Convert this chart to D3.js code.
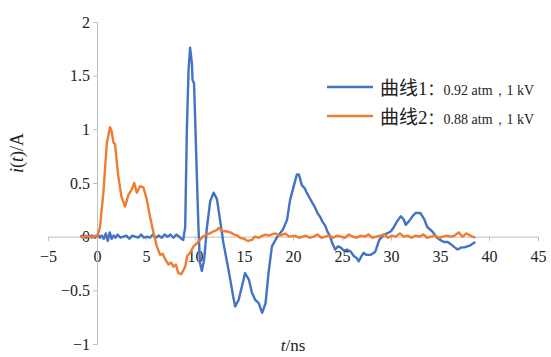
<!DOCTYPE html>
<html>
<head>
<meta charset="utf-8">
<script src="https://cdn.jsdelivr.net/npm/d3@7"></script>
<style>
  body { margin: 0; background: #fff; }
  svg { display: block; }
</style>
</head>
<body>
<svg id="chart" width="551" height="357"></svg>
<script>
// curve 1 (blue): time in ns, current in A
const blueT = [-1.7, -1.4, -1.1, -0.8, -0.5, -0.2, 0.1, 0.3, 0.5, 0.7, 0.9, 1.1, 1.3, 1.5, 1.7, 1.9, 2.1, 2.4, 2.7, 3.0,
  3.3, 3.6, 3.9, 4.2, 4.5, 4.8, 5.1, 5.4, 5.7, 6.0, 6.3, 6.6, 6.9, 7.2, 7.5, 7.8, 8.1, 8.4, 8.6, 8.8,
  9.0, 9.17, 9.34, 9.5, 9.68, 9.75, 9.9, 10.0, 10.2, 10.36, 10.5, 10.7, 10.94, 11.2, 11.55, 11.9, 12.24, 12.6, 12.9, 13.3,
  13.6, 13.9, 14.1, 14.45, 14.8, 15.1, 15.5, 15.8, 16.15, 16.5, 16.85, 17.2, 17.5, 17.85, 18.4, 19.0, 19.4, 19.7, 20.1, 20.4,
  20.6, 20.9, 21.2, 21.4, 21.7, 21.95, 22.2, 22.5, 22.8, 23.0, 23.3, 23.5, 23.8, 24.0, 24.3, 24.6, 24.85, 25.2, 25.5, 25.9,
  26.2, 26.5, 26.7, 27.0, 27.2, 27.5, 27.9, 28.4, 28.8, 29.3, 29.6, 30.0, 30.3, 30.6, 31.0, 31.3, 31.5, 31.8, 32.2, 32.5,
  33.0, 33.4, 33.7, 34.2, 34.7, 35.0, 35.4, 35.8, 36.1, 36.5, 36.8, 37.2, 37.5, 37.8, 38.1, 38.6];
const blueI = [0, 0.01, -0.01, 0, 0.01, -0.01, 0.02, -0.01, 0.01, -0.02, 0.03, -0.04, 0.04, -0.02, 0.01, -0.01, 0.02, -0.01, 0, 0.01,
  -0.02, 0.01, 0, -0.01, 0.02, -0.01, 0, -0.01, 0.02, -0.01, 0.01, -0.01, 0.02, 0, 0.02, -0.01, 0.02, 0, -0.02, -0.03,
  0.09, 1.0, 1.55, 1.76, 1.62, 1.46, 1.43, 1.15, 0.53, 0.07, -0.24, -0.32, -0.21, 0.07, 0.33, 0.41, 0.35, 0.13, -0.06, -0.25,
  -0.4, -0.56, -0.65, -0.59, -0.46, -0.34, -0.4, -0.52, -0.59, -0.62, -0.71, -0.62, -0.34, -0.09, 0, 0.07, 0.16, 0.34, 0.48, 0.58,
  0.58, 0.48, 0.45, 0.41, 0.36, 0.32, 0.28, 0.22, 0.18, 0.14, 0.1, 0.05, 0.0, -0.06, -0.12, -0.09, -0.1, -0.13, -0.12, -0.14,
  -0.18, -0.2, -0.23, -0.18, -0.15, -0.17, -0.17, -0.14, -0.03, 0.02, 0.03, 0.05, 0.09, 0.14, 0.19, 0.16, 0.11, 0.14, 0.19, 0.22,
  0.22, 0.16, 0.09, 0.05, -0.01, -0.03, -0.05, -0.05, -0.07, -0.1, -0.12, -0.1, -0.1, -0.09, -0.08, -0.05];

// curve 2 (orange)
const orangeT = [-1.7, -1.4, -1.1, -0.8, -0.5, -0.2, 0.0, 0.15, 0.3, 0.65, 1.0, 1.33, 1.5, 1.67, 1.84, 2.18, 2.5, 2.86, 3.2, 3.55,
  3.8, 4.06, 4.4, 4.73, 5.08, 5.4, 5.76, 6.1, 6.44, 6.7, 6.95, 7.3, 7.55, 7.8, 8.05, 8.3, 8.6, 9.0, 9.2, 9.5,
  9.85, 10.2, 10.5, 10.8, 11.2, 11.5, 11.9, 12.2, 12.4, 12.7, 12.9, 13.2, 13.6, 14.0, 14.3, 14.6, 15.0, 15.4, 15.8, 16.1,
  16.5, 16.9, 17.2, 17.5, 17.8, 18.2, 18.6, 19.0, 19.2, 19.6, 20.2, 20.6, 21.0, 21.3, 21.7, 22.1, 22.5, 22.9, 23.3, 23.7,
  24.1, 24.5, 24.9, 25.3, 25.7, 26.1, 26.5, 26.9, 27.3, 27.7, 28.1, 28.5, 28.9, 29.3, 29.7, 30.1, 30.5, 30.9, 31.3, 31.7,
  32.1, 32.5, 32.9, 33.3, 33.7, 34.1, 34.5, 34.9, 35.3, 35.7, 36.1, 36.5, 36.9, 37.3, 37.7, 38.1, 38.6];
const orangeI = [0, -0.01, 0.01, 0, -0.01, 0.01, 0.0, 0.04, 0.09, 0.41, 0.87, 1.02, 0.98, 0.88, 0.86, 0.56, 0.37, 0.28, 0.39, 0.44,
  0.5, 0.41, 0.47, 0.46, 0.35, 0.19, 0.04, -0.09, -0.17, -0.16, -0.21, -0.26, -0.24, -0.28, -0.26, -0.34, -0.35, -0.28, -0.18, -0.15,
  -0.09, -0.06, -0.03, 0.0, 0.02, 0.03, 0.05, 0.06, 0.08, 0.06, 0.05, 0.05, 0.04, 0.02, 0.01, -0.01, -0.02, -0.04, -0.03, 0.0,
  -0.01, 0.01, 0.02, 0.01, 0.02, 0.03, 0.01, 0.02, 0.03, 0.0, 0.01, -0.01, 0.0, 0.01, -0.01, 0.0, 0.02, -0.01, 0.0, 0.01,
  -0.01, 0.01, 0.0, -0.01, 0.02, 0.0, -0.01, 0.01, 0.0, 0.02, -0.01, 0.0, 0.01, 0.02, -0.01, 0.01, 0.0, 0.03, 0.0, 0.01,
  -0.01, 0.01, 0.0, 0.02, -0.01, 0.0, 0.01, -0.01, 0.0, 0.01, 0.0, 0.01, 0.04, 0.0, 0.03, 0.01, -0.01];

const xTicks = [-5, 0, 5, 10, 15, 20, 25, 30, 35, 40, 45];
const yTicks = [-1, -0.5, 0, 0.5, 1, 1.5, 2];
const seriesNames = ["曲线", "曲线"];
const seriesNums = ["1", "2"];
const seriesNotes = ["0.92 atm，1 kV", "0.88 atm，1 kV"];
const colors = ["#4472C4", "#ED7D31"];

const SERIF = "'Liberation Serif'";
const CJK = "'Noto Sans CJK SC'";

const svg = d3.select('#chart');
const x = d3.scaleLinear().domain([-5, 45]).range([48, 538]);
const y = d3.scaleLinear().domain([-1, 2]).range([344, 22]);
const fmt = d => d < 0 ? '\u2212' + Math.abs(d) : String(d);

function styleAxis(g) {
    g.attr('font-family', null).attr('font-size', null);
    g.selectAll('path, line').attr('stroke', '#bfbfbf');
    g.selectAll('text')
        .attr('fill', '#222')
        .style('font-family', SERIF)
        .style('font-size', '16px');
}

svg.append('g')
    .attr('transform', `translate(0,${y(0)})`)
    .call(d3.axisBottom(x).tickValues(xTicks).tickFormat(fmt).tickSize(4).tickSizeOuter(4).tickPadding(10))
    .call(styleAxis);

svg.append('g')
    .attr('transform', `translate(${x(0)},0)`)
    .call(d3.axisLeft(y).tickValues(yTicks).tickFormat(fmt).tickSize(4).tickSizeOuter(4).tickPadding(3))
    .call(styleAxis);

const line = d3.line().x(d => x(d[0])).y(d => y(d[1]));

const series = [
    d3.zip(blueT, blueI),
    d3.zip(orangeT, orangeI)
];

svg.selectAll('.line-path')
    .data(series)
    .enter()
    .append('path')
    .attr('class', 'line-path')
    .attr('fill', 'none')
    .attr('stroke', (d, i) => colors[i])
    .attr('stroke-width', 2.4)
    .attr('stroke-linejoin', 'round')
    .attr('d', line);

// axis titles
const yTitle = svg.append('text')
    .attr('transform', 'translate(23,153) rotate(-90)')
    .attr('text-anchor', 'middle')
    .attr('fill', '#222')
    .style('font-family', SERIF)
    .style('font-size', '18px');
yTitle.append('tspan').style('font-style', 'italic').text('i');
yTitle.append('tspan').text('(');
yTitle.append('tspan').style('font-style', 'italic').text('t');
yTitle.append('tspan').text(')/A');

const xTitle = svg.append('text')
    .attr('x', 293)
    .attr('y', 351)
    .attr('text-anchor', 'middle')
    .attr('fill', '#222')
    .style('font-family', SERIF)
    .style('font-size', '17px');
xTitle.append('tspan').style('font-style', 'italic').text('t');
xTitle.append('tspan').text('/ns');

// legend
const legend = svg.append('g');
seriesNames.forEach((name, i) => {
    const ly = 87 + i * 29;
    legend.append('line')
        .attr('x1', 327).attr('x2', 373)
        .attr('y1', ly).attr('y2', ly)
        .attr('stroke', colors[i])
        .attr('stroke-width', 2.4);
    const t = legend.append('text')
        .attr('x', 380)
        .attr('y', ly + 8)
        .attr('fill', '#222');
    t.append('tspan').style('font-family', CJK).style('font-size', '19px').text(name);
    t.append('tspan').style('font-family', SERIF).style('font-size', '19px').text(seriesNums[i]);
    t.append('tspan').style('font-family', CJK).style('font-size', '16px').text('：');
    t.append('tspan').style('font-family', SERIF).style('font-size', '14px').text(seriesNotes[i]);
});
</script>
</body>
</html>
